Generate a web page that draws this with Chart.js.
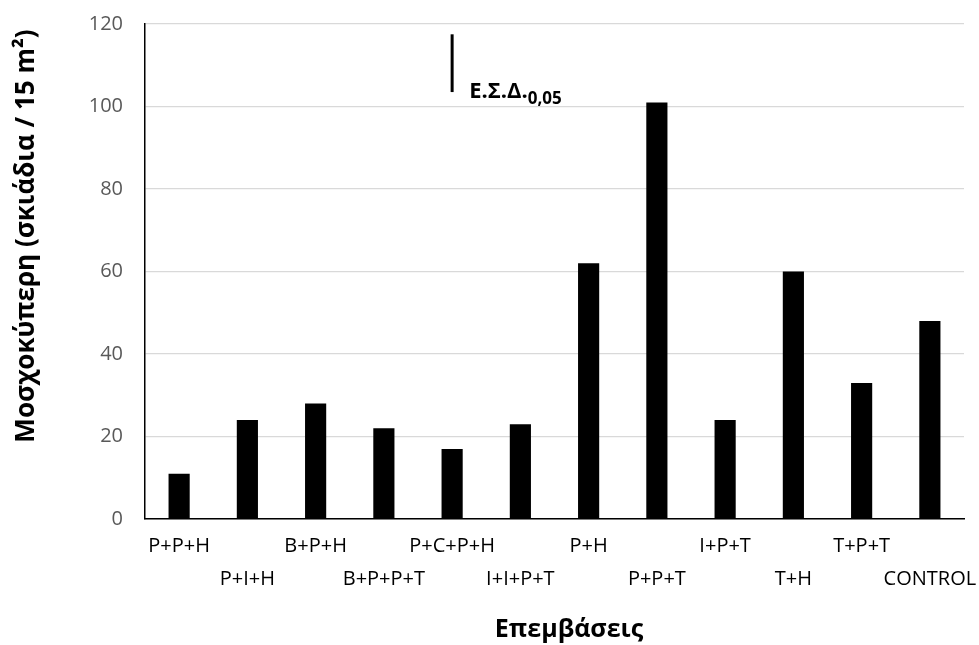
<!DOCTYPE html>
<html>
<head>
<meta charset="utf-8">
<script src="https://cdn.jsdelivr.net/npm/chart.js@4.4.1/dist/chart.umd.min.js"></script>
<style>
  html, body { margin: 0; padding: 0; background: #fff; }
  #wrap { width: 979px; height: 645px; }
</style>
</head>
<body>
<div id="wrap"><canvas id="chart" width="979" height="645"></canvas></div>
<script>
// data
const treatments = ["P+P+H", "P+I+H", "B+P+H", "B+P+P+T", "P+C+P+H", "I+I+P+T",
                    "P+H", "P+P+T", "I+P+T", "T+H", "T+P+T", "CONTROL"];
const weeds = [11, 24, 28, 22, 17, 23, 62, 101, 24, 60, 33, 48];
const yTicks = [0, 20, 40, 60, 80, 100, 120];

// Ε.Σ.Δ. (LSD) marker
const lsdIndex = 4;
const lsdTop = 117.5;
const lsdValue = 14;

const xTitle = "Επεμβάσεις";
const yTitle = "Μοσχοκύπερη (σκιάδια / 15 m²)";

// staggered labels: odd categories go on the second row
const staggered = treatments.map((t, i) => (i % 2 ? ["", t] : [t]));

const FONT = "'Open Sans', 'Liberation Sans', sans-serif";

const lsdPlugin = {
  id: "lsdMark",
  afterDatasetsDraw(chart) {
    const { ctx, scales } = chart;
    const px = scales.x.getPixelForValue(lsdIndex);
    const top = scales.y.getPixelForValue(lsdTop);
    const bot = scales.y.getPixelForValue(lsdTop - lsdValue);
    ctx.save();
    ctx.strokeStyle = "#000";
    ctx.lineWidth = 3;
    ctx.beginPath();
    ctx.moveTo(px, top);
    ctx.lineTo(px, bot);
    ctx.stroke();

    ctx.fillStyle = "#000";
    ctx.textBaseline = "alphabetic";
    ctx.textAlign = "left";
    ctx.font = "bold 22px " + FONT;
    const main = "Ε.Σ.Δ.";
    ctx.fillText(main, px + 17, bot + 6);
    const w = ctx.measureText(main).width;
    ctx.font = "bold 17px " + FONT;
    ctx.fillText("0,05", px + 17 + w, bot + 12);
    ctx.restore();
  }
};

// axis titles drawn by hand: the original sits off-centre
const titlesPlugin = {
  id: "axisTitles",
  afterDraw(chart) {
    const ctx = chart.ctx;
    ctx.save();
    ctx.fillStyle = "#000";
    ctx.textAlign = "center";
    ctx.textBaseline = "alphabetic";
    ctx.font = "bold 25px " + FONT;
    ctx.fillText(xTitle, 569, 637);

    ctx.font = "bold 26px " + FONT;
    ctx.translate(34, 236);
    ctx.rotate(-Math.PI / 2);
    ctx.fillText(yTitle, 0, 0);
    ctx.restore();
  }
};

new Chart(document.getElementById("chart").getContext("2d"), {
  type: "bar",
  data: {
    labels: staggered,
    datasets: [{
      data: weeds,
      backgroundColor: "#000",
      borderWidth: 0,
      barPercentage: 0.31,
      categoryPercentage: 1
    }]
  },
  options: {
    responsive: false,
    animation: false,
    layout: { padding: { top: 24, right: 15, left: 0, bottom: 0 } },
    plugins: { legend: { display: false }, tooltip: { enabled: false } },
    scales: {
      x: {
        grid: { display: false, drawTicks: false },
        border: { color: "#000", width: 1.5 },
        ticks: {
          color: "#000",
          font: { family: FONT, size: 20, lineHeight: 1.65 },
          padding: 11,
          autoSkip: false,
          maxRotation: 0,
          minRotation: 0
        },
        afterFit(scale) {
          scale.height = 126;
          scale.paddingLeft = 0;
          scale.paddingRight = 0;
        }
      },
      y: {
        min: 0,
        max: 120,
        afterBuildTicks(scale) { scale.ticks = yTicks.map(v => ({ value: v })); },
        grid: { color: "#d9d9d9", lineWidth: 1.3, drawTicks: false },
        border: { color: "#000", width: 1.5 },
        ticks: {
          color: "#595959",
          font: { family: FONT, size: 20 },
          padding: 22
        },
        afterFit(scale) {
          scale.width = 145;
          scale.paddingTop = 0;
          scale.paddingBottom = 0;
        }
      }
    }
  },
  plugins: [lsdPlugin, titlesPlugin]
});
</script>
</body>
</html>
